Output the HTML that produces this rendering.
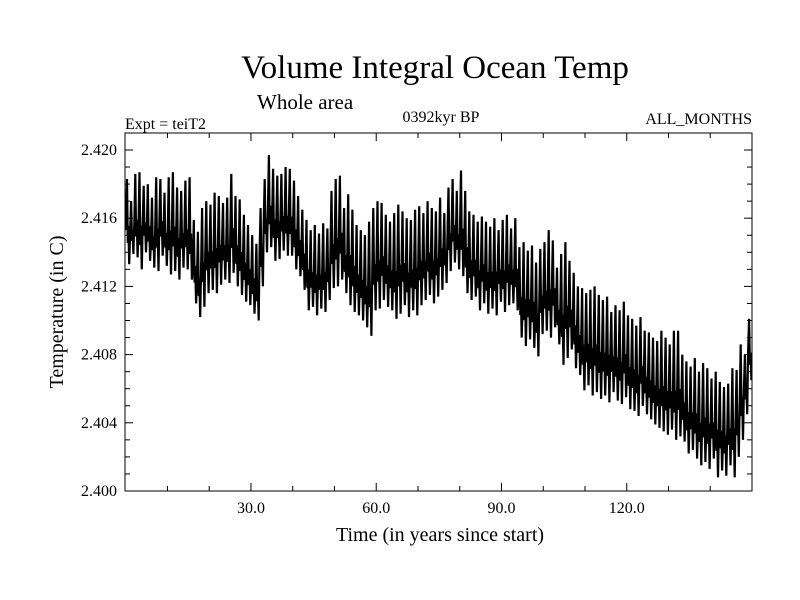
<!DOCTYPE html>
<html><head><meta charset="utf-8"><style>
html,body{margin:0;padding:0;background:#fff;}
svg{display:block;font-family:"Liberation Serif",serif;}
</style></head><body>
<svg id="chart" width="800" height="600" viewBox="0 0 800 600">
<text x="435" y="78" font-size="33" text-anchor="middle">Volume Integral Ocean Temp</text>
<text x="257" y="109" font-size="21">Whole area</text>
<text x="125" y="129" font-size="16">Expt = teiT2</text>
<text x="441" y="122" font-size="16" text-anchor="middle">0392kyr BP</text>
<text x="752" y="124" font-size="16" text-anchor="end">ALL_MONTHS</text>
<text x="440" y="541" font-size="20" text-anchor="middle">Time (in years since start)</text>
<text transform="translate(63,312) rotate(-90)" font-size="20" text-anchor="middle">Temperature (in C)</text>
<g id="axes"></g>
<path id="series" fill="none" stroke="#000" stroke-width="2.2" stroke-linejoin="miter"/>
<rect x="125" y="133" width="627" height="358" fill="none" stroke="#000" stroke-width="1"/>
</svg>
<script>
const baseTemp = 2.400;
const yearHighMilli = [
18.3,17.0,18.6,18.7,17.9,18.0,17.2,18.4,18.3,17.5,
18.4,18.7,17.8,17.6,18.2,18.4,15.9,15.2,16.6,17.0,
16.8,17.5,17.3,16.9,17.2,18.6,17.3,17.1,16.2,15.6,
15.0,14.5,16.6,18.3,19.7,18.9,18.5,18.6,19.0,18.9,
18.2,17.3,16.5,15.9,15.3,15.6,15.1,15.7,15.4,17.6,
18.3,18.5,16.6,17.4,16.5,15.6,15.3,15.0,15.8,16.6,
17.0,16.9,16.2,15.8,16.3,16.8,16.4,16.0,15.9,16.5,
16.7,16.3,17.0,16.6,16.4,17.2,16.3,17.8,18.3,17.6,
18.8,17.6,16.4,16.2,15.8,16.1,15.8,15.5,16.0,15.3,
15.9,16.2,15.4,16.0,14.3,14.6,14.1,14.4,13.4,14.2,
14.6,15.3,14.7,13.1,13.9,14.6,13.5,12.8,12.0,11.9,
11.6,11.8,12.0,11.5,11.2,11.4,10.5,10.9,10.6,11.1,
10.3,10.1,9.7,10.2,9.4,9.3,9.0,8.8,9.4,9.0,
8.6,9.4,9.4,8.0,7.6,7.3,7.8,7.0,7.5,7.2,
6.6,7.0,6.4,6.1,6.3,7.2,7.1,8.6,8.0,10.1];
const yearLowMilli = [
13.3,13.9,13.7,13.0,14.0,13.5,13.1,12.9,13.8,13.2,
12.7,12.9,12.4,13.1,13.0,12.4,11.0,10.2,10.8,11.6,
11.8,11.6,12.1,12.4,12.2,12.8,12.0,11.5,11.1,10.9,
10.4,10.0,12.0,14.0,14.3,13.5,13.6,14.1,13.8,13.8,
13.0,12.6,11.8,10.6,10.8,10.3,10.7,10.5,11.2,11.9,
12.0,12.4,11.6,10.9,10.5,10.3,10.0,9.6,9.1,10.6,
10.7,11.2,10.8,10.6,10.1,10.4,10.9,10.2,10.6,10.3,
10.9,11.2,11.5,11.0,11.4,11.8,12.2,12.9,13.4,13.0,
12.6,11.6,11.2,11.4,10.6,11.0,10.4,10.7,10.3,11.1,
10.5,10.9,11.0,10.6,9.0,8.5,8.9,8.4,7.9,9.2,
9.4,9.0,9.6,8.6,7.4,7.8,8.3,7.2,6.8,5.9,
6.2,5.6,5.8,5.4,5.6,5.2,5.8,5.3,5.1,5.5,
4.8,4.7,4.4,5.0,4.5,4.2,3.9,3.7,3.5,3.3,
3.6,3.0,3.2,2.9,2.2,2.4,1.9,1.5,1.7,1.3,
1.9,0.8,1.2,0.9,1.5,0.8,2.0,3.0,4.5,6.5];
const xTickValues = [30, 60, 90, 120];
const xTickLabels = ["30.0", "60.0", "90.0", "120.0"];
const yTickValues = [2.400, 2.404, 2.408, 2.412, 2.416, 2.420];
const yTickLabels = ["2.400", "2.404", "2.408", "2.412", "2.416", "2.420"];

const X0 = 125.7, X1 = 752, T0 = 0, T1 = 150;
const Y0 = 491, YPX = 341 / 0.020;
function xs(t){ return X0 + (t - T0) / (T1 - T0) * (X1 - X0); }
function ys(v){ return Y0 - (v - baseTemp) * YPX; }
const NS = "http://www.w3.org/2000/svg";
const axes = document.getElementById('axes');
function line(x1,y1,x2,y2,name){
  const l = document.createElementNS(NS,'line');
  l.setAttribute('x1',x1);l.setAttribute('y1',y1);l.setAttribute('x2',x2);l.setAttribute('y2',y2);
  l.setAttribute('stroke','#000');l.setAttribute('stroke-width','1');
  
  
  axes.appendChild(l);
}
function label(x,y,txt,anchor,name){
  const t = document.createElementNS(NS,'text');
  t.setAttribute('x',x);t.setAttribute('y',y);t.setAttribute('font-size','16');
  t.setAttribute('text-anchor',anchor);t.textContent = txt;
  
  
  axes.appendChild(t);
}
for (let t = 10; t < 150; t += 10) {
  const x = xs(t), major = xTickValues.indexOf(t) >= 0, len = major ? 8 : 5;
  line(x,491,x,491-len,'x-tick');
  line(x,133,x,133+len,'x-tick-top');
}
xTickValues.forEach((v,i)=>label(xs(v),513,xTickLabels[i],'middle','x-tick-label'));
for (let k = 1; k <= 20; k++) {
  const v = baseTemp + k*0.001, y = ys(v), major = k % 4 === 0, len = major ? 8 : 5;
  line(125,y,125+len,y,'y-tick');
  line(752,y,752-len,y,'y-tick-right');
}
yTickValues.forEach((v,i)=>label(117,ys(v)+5,yTickLabels[i],'end','y-tick-label'));
let d = '';
for (let i = 0; i < yearHighMilli.length; i++) {
  const hi = baseTemp + yearHighMilli[i]/1000, lo = baseTemp + yearLowMilli[i]/1000;
  const r = hi - lo;
  const pts = [[i+0.05, lo + r*0.4],[i+0.3, hi],[i+0.5, lo + r*0.25],[i+0.65, lo + r*0.45],[i+0.85, lo]];
  pts.forEach((p,j)=>{ d += (i===0&&j===0?'M':'L') + xs(p[0]).toFixed(1) + ',' + ys(p[1]).toFixed(1); });
}
document.getElementById('series').setAttribute('d', d);
</script>
</body></html>
